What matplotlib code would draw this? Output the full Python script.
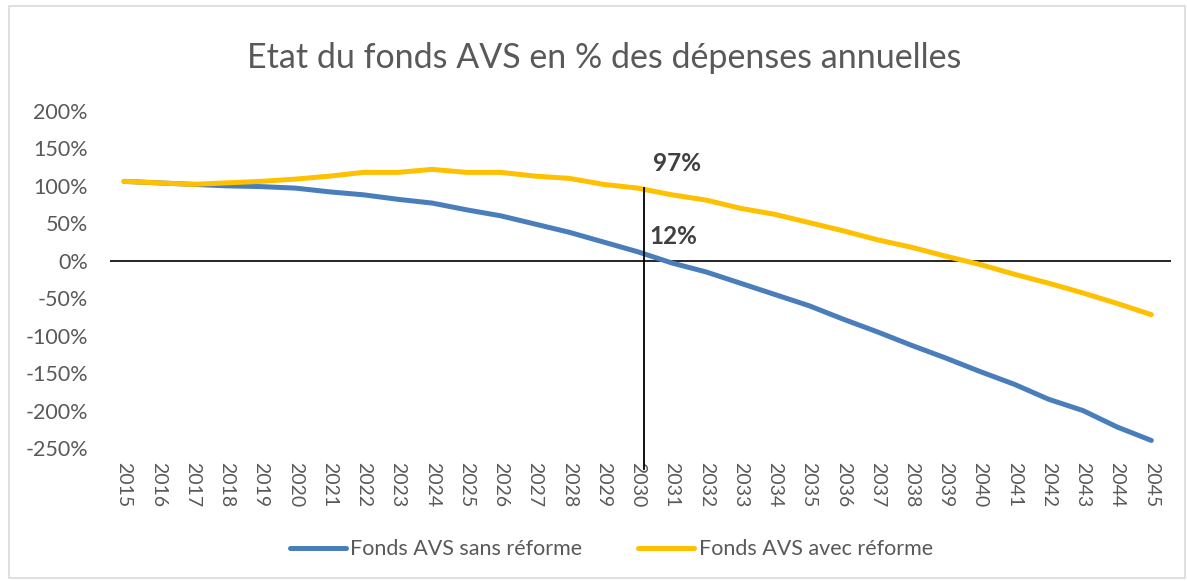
import numpy as np
import matplotlib.pyplot as plt
from matplotlib.patches import Rectangle
from matplotlib.ticker import FuncFormatter, MultipleLocator

# ------------------------------------------------------------------
# Data, values in % of annual spending
years = list(range(2015, 2046))
sans_reforme = [106, 104, 102, 100, 99, 97, 92, 88, 82, 77, 68, 60, 49, 38, 25, 12,
                -3, -15, -30, -45, -60, -78, -95, -113, -130, -148, -165, -185, -200, -222, -240]
avec_reforme = [106, 104, 102, 104, 106, 109, 113, 118, 118, 122, 118, 118, 113, 110, 102, 97,
                88, 81, 70, 62, 51, 40, 28, 18, 6, -5, -18, -30, -43, -57, -72]
mark_year = 2030
mark_labels = ["97%", "12%"]

TITLE = "Etat du fonds AVS en % des dépenses annuelles"
LABEL_SANS = "Fonds AVS sans réforme"
LABEL_AVEC = "Fonds AVS avec réforme"

# ------------------------------------------------------------------
plt.rcParams["font.family"] = ["Lato", "DejaVu Sans"]
GREY = "#595959"

fig = plt.figure(figsize=(11.87, 5.81), dpi=100)
fig.patches.append(Rectangle((0.008, 0.005), 0.99, 0.985, transform=fig.transFigure,
                             fill=False, edgecolor="#d9d9d9", lw=1.2))
ax = fig.add_axes([0.0927, 0.229, 0.894, 0.58])

ax.plot(years, sans_reforme, color="#4a7ebb", lw=3.6, solid_capstyle="round", label=LABEL_SANS)
ax.plot(years, avec_reforme, color="#ffc000", lw=3.6, solid_capstyle="round", label=LABEL_AVEC)
ax.axhline(0, color="black", lw=1.2, zorder=1)

# marker line for 2030 (hand drawn in the original, sits a bit right of the tick)
i = years.index(mark_year)
xm = mark_year + 0.18
ax.plot([xm, xm], [avec_reforme[i], -278], color="black", lw=1.3, clip_on=False, zorder=3)
ax.text(mark_year + 0.45, avec_reforme[i] + 33, mark_labels[0], fontsize=17.5, fontweight="bold",
        color="#404040", va="center", ha="left")
ax.text(mark_year + 0.33, sans_reforme[i] + 21, mark_labels[1], fontsize=17.5, fontweight="bold",
        color="#404040", va="center", ha="left")

ax.set_xlim(2014.59, 2045.58)
ax.set_ylim(-250, 200)
ax.yaxis.set_major_locator(MultipleLocator(50))
ax.yaxis.set_major_formatter(FuncFormatter(lambda v, p: f"{v:.0f}%"))
ax.set_xticks(years)
ax.set_xticklabels([str(y) for y in years], rotation=-90, fontsize=14, color=GREY)
ax.tick_params(axis="y", labelsize=15.5, labelcolor=GREY, length=0, pad=16)
ax.tick_params(axis="x", length=0, pad=10)
for s in ax.spines.values():
    s.set_visible(False)

fig.text(0.509, 0.9, TITLE, ha="center", va="center", fontsize=24.5, color=GREY)

fig.legend(loc="center", bbox_to_anchor=(0.515, 0.055), ncol=2, frameon=False,
           fontsize=15.5, labelcolor=GREY, handlelength=2.6, handletextpad=0.2,
           columnspacing=2.6)

fig.savefig("out.png", dpi=100)
